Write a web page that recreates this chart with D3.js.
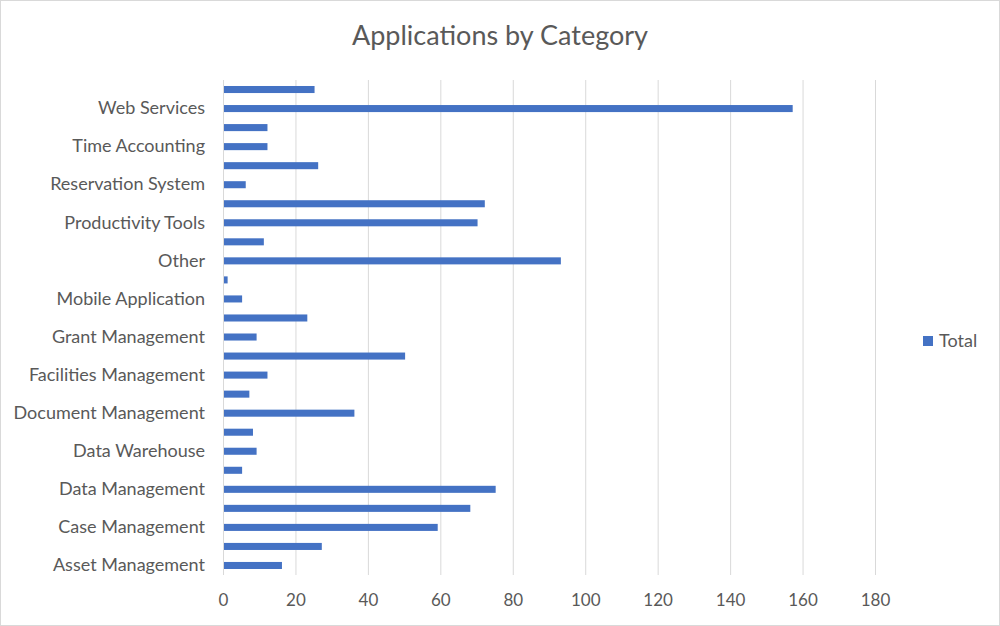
<!DOCTYPE html>
<html>
<head>
<meta charset="utf-8">
<script src="https://cdn.jsdelivr.net/npm/d3@7"></script>
<style>
  body { margin: 0; background: #fff; }
  text { font-family: Lato, "Open Sans", sans-serif; fill: #595959; }
</style>
</head>
<body>
<div id="chart"></div>
<script>
// categories bottom -> top (alphabetical); only every other name is shown on the axis
var categories = [
  "Asset Management", "Budgeting", "Case Management", "Collaboration",
  "Data Management", "Data Visualization", "Data Warehouse", "Database",
  "Document Management", "E-Commerce", "Facilities Management", "Financial Management",
  "Grant Management", "Human Resources", "Mobile Application", "Office Automation",
  "Other", "Portal", "Productivity Tools", "Reporting",
  "Reservation System", "Student Information", "Time Accounting", "Tracking",
  "Web Services", "Workflow"
]
var totals = [
  16, 27, 59, 68,
  75, 5, 9, 8,
  36, 7, 12, 50,
  9, 23, 5, 1,
  93, 11, 70, 72,
  6, 26, 12, 12,
  157, 25
]
var xTicks = [0, 20, 40, 60, 80, 100, 120, 140, 160, 180]
var seriesName = "Total"
var title = "Applications by Category"

var width = 1000, height = 626
var plotLeft = 223, plotRight = 875, plotTop = 80, plotBottom = 575

var svg = d3.select("#chart").append("svg").attr("width", width).attr("height", height)

svg.append("rect")
    .attr("x", 0.5).attr("y", 0.5)
    .attr("width", width - 1).attr("height", height - 1)
    .attr("fill", "#fff")
    .attr("stroke", "#d9d9d9")

svg.append("text")
    .attr("x", 500)
    .attr("y", 45)
    .attr("text-anchor", "middle")
    .style("font-size", "27px")
    .text(title)

var x = d3.scaleLinear().domain([0, 180]).range([plotLeft, plotRight])
var y = d3.scaleBand()
    .domain(categories.slice().reverse())
    .range([plotTop, plotBottom])
    .paddingInner(0.63)
    .paddingOuter(0.315)

// gridlines
svg.append("g").selectAll("line")
    .data(xTicks)
    .join("line")
    .attr("x1", function(d) { return x(d) + 0.5 })
    .attr("x2", function(d) { return x(d) + 0.5 })
    .attr("y1", plotTop)
    .attr("y2", plotBottom)
    .attr("stroke", "#d9d9d9")

// bars
svg.append("g").selectAll("rect")
    .data(categories)
    .join("rect")
    .attr("x", x(0) + 1)
    .attr("y", function(d) { return y(d) })
    .attr("width", function(d, i) { return x(totals[i]) - x(0) })
    .attr("height", y.bandwidth())
    .attr("fill", "#4472C4")

var xAxis = svg.append("g")
    .attr("transform", "translate(0," + plotBottom + ")")
    .call(d3.axisBottom(x).tickValues(xTicks).tickSize(0).tickPadding(19))
xAxis.select(".domain").remove()
xAxis.selectAll("text").style("font-size", "17px").style("font-family", null)

var yAxis = svg.append("g")
    .attr("transform", "translate(" + plotLeft + ",0)")
    .call(d3.axisLeft(y).tickSize(0).tickPadding(18)
        .tickFormat(function(d) { return categories.indexOf(d) % 2 === 0 ? d : "" }))
yAxis.select(".domain").remove()
yAxis.selectAll("text").style("font-size", "18px").style("font-family", null)

// legend
svg.append("rect")
    .attr("x", 923).attr("y", 336)
    .attr("width", 10).attr("height", 10)
    .attr("fill", "#4472C4")
svg.append("text")
    .attr("x", 939).attr("y", 341)
    .attr("dy", "0.35em")
    .style("font-size", "18px")
    .text(seriesName)
</script>
</body>
</html>
